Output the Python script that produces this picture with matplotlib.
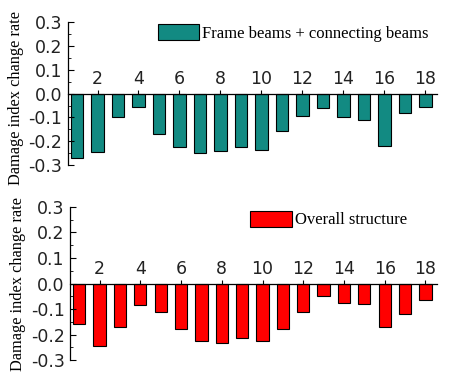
import numpy as np
import matplotlib.pyplot as plt
from matplotlib.ticker import MultipleLocator

# member index
members = np.arange(1, 19)

# damage index change rate
frame_beams = [-0.27, -0.245, -0.10, -0.055, -0.17, -0.225, -0.25, -0.24, -0.225,
               -0.235, -0.155, -0.095, -0.06, -0.10, -0.11, -0.22, -0.08, -0.055]
overall = [-0.16, -0.245, -0.17, -0.085, -0.11, -0.18, -0.225, -0.235, -0.215,
           -0.225, -0.18, -0.11, -0.05, -0.075, -0.08, -0.17, -0.12, -0.065]

labels = ['Frame beams + connecting beams', 'Overall structure']
colors = ['#128a82', '#ff0000']
yticks = [-0.3, -0.2, -0.1, 0.0, 0.1, 0.2, 0.3]

fig = plt.figure(figsize=(4.52, 3.77), dpi=100, facecolor='white')
ax1 = fig.add_axes([0.150, 0.562, 0.816, 0.379])
ax2 = fig.add_axes([0.155, 0.045, 0.811, 0.406])

legend_pos = [(0.244, 0.985), (0.492, 0.975)]
ylab_y = [0.47, 0.50]

for ax, vals, lab, col, lp, ly in zip([ax1, ax2], [frame_beams, overall], labels,
                                       colors, legend_pos, ylab_y):
    ax.bar(members, vals, width=0.6, color=col, edgecolor='black', linewidth=0.8,
           label=lab)
    ax.set_xlim(0.55, 18.55)
    ax.set_ylim(-0.3, 0.3)

    ax.spines['right'].set_visible(False)
    ax.spines['bottom'].set_visible(False)
    ax.spines['top'].set_position(('data', 0))
    ax.spines['top'].set_linewidth(0.9)
    ax.spines['left'].set_linewidth(0.9)

    ax.xaxis.tick_top()
    ax.set_xticks(range(2, 19, 2))
    ax.tick_params(axis='x', direction='out', length=3, pad=1, labelsize=12.5)
    ax.set_yticks(yticks)
    ax.set_yticklabels(['-0.3', '-0.2', '-0.1', '0.0', '0.1', '0.2', '0.3'])
    ax.yaxis.set_minor_locator(MultipleLocator(0.05))
    ax.tick_params(axis='y', which='major', direction='in', length=4, pad=4,
                   labelsize=12.5)
    ax.tick_params(axis='y', which='minor', direction='in', length=2)

    ax.set_ylabel('Damage index change rate', family='Liberation Serif', fontsize=11.8)
    ax.yaxis.set_label_coords(-0.12, ly)

    ax.legend(loc='upper left', bbox_to_anchor=lp, frameon=False,
              prop={'family': 'Liberation Serif', 'size': 12},
              handlelength=2.5, handleheight=1.1, handletextpad=0.15,
              borderpad=0, borderaxespad=0)

for t in ax1.get_xticklabels() + ax1.get_yticklabels() + ax2.get_xticklabels() + ax2.get_yticklabels():
    t.set_color('#222222')

plt.savefig('out.png', dpi=100)
